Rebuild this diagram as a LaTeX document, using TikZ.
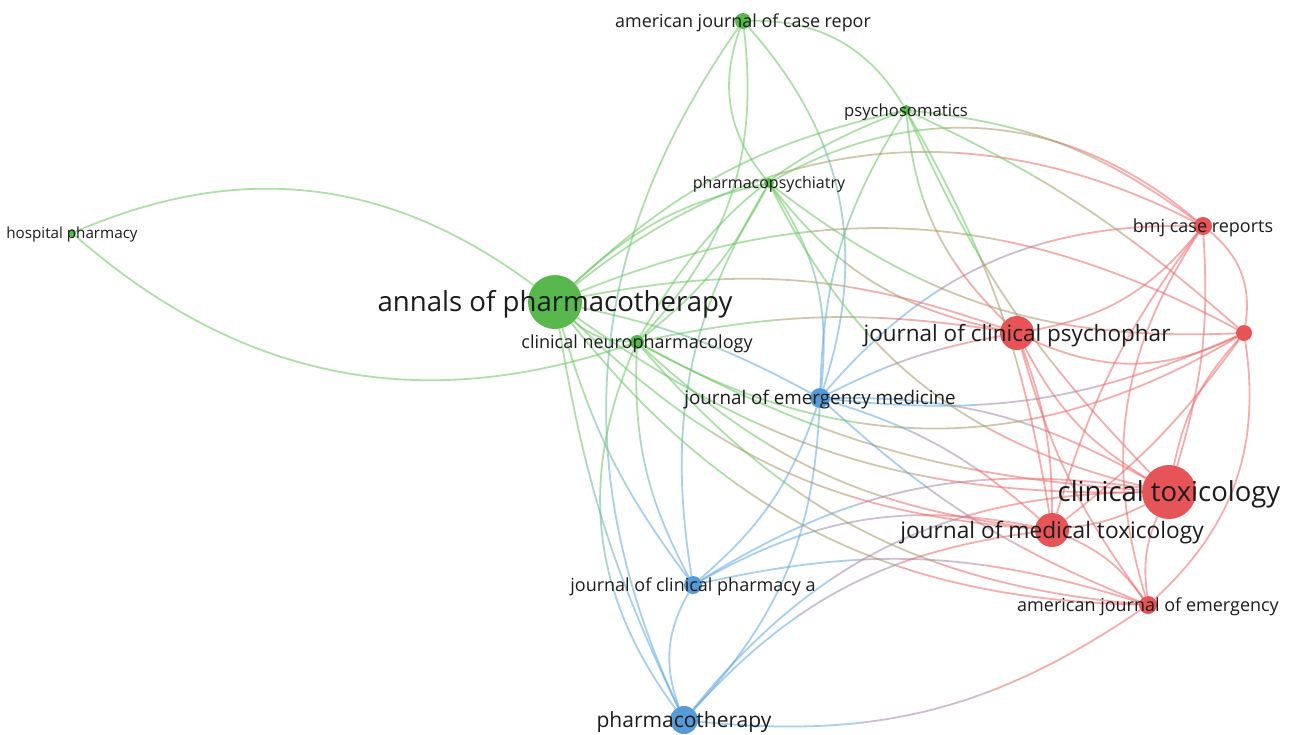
\documentclass[tikz,border=0pt]{standalone}
\usepackage{fontspec}
\setmainfont{Open Sans}
\usetikzlibrary{backgrounds,calc}
\definecolor{gnode}{RGB}{88,184,78}
\definecolor{rnode}{RGB}{230,84,88}
\definecolor{bnode}{RGB}{86,154,214}
\definecolor{gcol}{RGB}{105,200,95}
\definecolor{rcol}{RGB}{238,105,105}
\definecolor{bcol}{RGB}{95,168,228}
\definecolor{txt}{RGB}{28,28,28}
\tikzset{
  edgebase/.style={line width=1.8pt, opacity=0.55},
  dot/.style={circle, inner sep=0pt, minimum size=#1},
  gdot/.style={dot=#1, fill=gnode},
  rdot/.style={dot=#1, fill=rnode},
  bdot/.style={dot=#1, fill=bnode},
  lab/.style={text=txt, inner sep=0pt, anchor=base, yshift=-0.36*#1pt, font=\fontsize{#1pt}{#1pt}\selectfont}
}
% same-cluster edge: colour, from, to, bend
\newcommand\sedge[4]{\draw[edgebase, draw=#1] (#2) to[bend left=#4] (#3);}
% cross-cluster edge: colour at start, colour at end, from, to, bend
\newcommand\xedge[5]{%
  \coordinate (ea) at ($(#3)!0.36!(#4)$);
  \coordinate (eb) at ($(#3)!0.64!(#4)$);
  \begin{scope}
    \clip ($(ea)!3000pt!90:(#4)$) -- ($(ea)!3000pt!-90:(#4)$) -- ($(ea)!-3000pt!(#4)$) -- cycle;
    \draw[edgebase, draw=#1] (#3) to[bend left=#5] (#4);
  \end{scope}
  \begin{scope}
    \clip ($(ea)!3000pt!90:(#4)$) -- ($(eb)!3000pt!90:(#4)$) -- ($(eb)!3000pt!-90:(#4)$) -- ($(ea)!3000pt!-90:(#4)$) -- cycle;
    \draw[edgebase, draw=#1!50!#2] (#3) to[bend left=#5] (#4);
  \end{scope}
  \begin{scope}
    \clip ($(eb)!3000pt!90:(#4)$) -- ($(eb)!3000pt!-90:(#4)$) -- ($(eb)!3000pt!(#4)$) -- cycle;
    \draw[edgebase, draw=#2] (#3) to[bend left=#5] (#4);
  \end{scope}}
\begin{document}
\begin{tikzpicture}[x=1pt,y=1pt]
\useasboundingbox (0,0) rectangle (1293,-734);
% nodes
\node[gdot=54pt] (A) at (555,-302) {};
\node[gdot=14pt] (CN) at (637,-342) {};
\node[gdot=10pt] (PP) at (769,-183) {};
\node[gdot=10pt] (PS) at (906,-110) {};
\node[gdot=16pt] (AC) at (743,-21) {};
\node[gdot=8pt] (HP) at (72,-233) {};
\node[bdot=20pt] (JEM) at (820,-398) {};
\node[bdot=18pt] (JCPA) at (693,-585) {};
\node[bdot=28pt] (PT) at (684,-720) {};
\node[rdot=34pt] (JCP) at (1017,-333) {};
\node[rdot=18pt] (BMJ) at (1203,-226) {};
\node[rdot=16pt] (U) at (1244,-333) {};
\node[rdot=54pt] (CT) at (1169,-492) {};
\node[rdot=34pt] (JMT) at (1052,-530) {};
\node[rdot=18pt] (AJEM) at (1148,-605) {};
\begin{scope}[on background layer]
\fill[white] (0,0) rectangle (1293,-734);
% green-green
\sedge{gcol}{HP}{A}{30}
\sedge{gcol}{HP}{CN}{-30}
\sedge{gcol}{AC}{PS}{30}
\sedge{gcol}{AC}{PP}{-30}
\sedge{gcol}{AC}{CN}{25}
\sedge{gcol}{PS}{A}{-15}
\sedge{gcol}{PS}{CN}{-20}
\sedge{gcol}{PP}{A}{-15}
\sedge{gcol}{PP}{CN}{12}
\sedge{gcol}{A}{CN}{-20}
% green-blue
\xedge{gcol}{bcol}{AC}{PT}{-30}
\xedge{gcol}{bcol}{AC}{JEM}{30}
\xedge{gcol}{bcol}{PS}{JEM}{-15}
\xedge{gcol}{bcol}{PP}{JEM}{20}
\xedge{gcol}{bcol}{PP}{JCPA}{-20}
\xedge{gcol}{bcol}{A}{JEM}{8}
\xedge{gcol}{bcol}{A}{JCPA}{-10}
\xedge{gcol}{bcol}{A}{PT}{-8}
\xedge{gcol}{bcol}{CN}{JCPA}{-15}
\xedge{gcol}{bcol}{CN}{PT}{-30}
% blue-blue
\sedge{bcol}{JEM}{JCPA}{15}
\sedge{bcol}{JEM}{PT}{20}
\sedge{bcol}{JCPA}{PT}{-25}
% blue-red
\xedge{bcol}{rcol}{JEM}{BMJ}{25}
\xedge{bcol}{rcol}{JEM}{JCP}{8}
\xedge{bcol}{rcol}{JEM}{U}{-15}
\xedge{bcol}{rcol}{JEM}{CT}{15}
\xedge{bcol}{rcol}{JEM}{JMT}{12}
\xedge{bcol}{rcol}{JEM}{AJEM}{-10}
\xedge{bcol}{rcol}{JCPA}{JMT}{20}
\xedge{bcol}{rcol}{JCPA}{CT}{20}
\xedge{bcol}{rcol}{JCPA}{AJEM}{15}
\xedge{bcol}{rcol}{PT}{JMT}{20}
\xedge{bcol}{rcol}{PT}{CT}{25}
\xedge{bcol}{rcol}{PT}{AJEM}{-20}
% green-red
\xedge{gcol}{rcol}{A}{JCP}{15}
\xedge{gcol}{rcol}{A}{BMJ}{33}
\xedge{gcol}{rcol}{A}{U}{25}
\xedge{gcol}{rcol}{A}{CT}{-18}
\xedge{gcol}{rcol}{A}{JMT}{-20}
\xedge{gcol}{rcol}{A}{AJEM}{-25}
\xedge{gcol}{rcol}{CN}{JCP}{10}
\xedge{gcol}{rcol}{CN}{U}{-30}
\xedge{gcol}{rcol}{CN}{CT}{-12}
\xedge{gcol}{rcol}{CN}{JMT}{-18}
\xedge{gcol}{rcol}{CN}{AJEM}{-22}
\xedge{gcol}{rcol}{PP}{JCP}{-20}
\xedge{gcol}{rcol}{PP}{CT}{-25}
\xedge{gcol}{rcol}{PP}{U}{-20}
\xedge{gcol}{rcol}{PP}{BMJ}{35}
\xedge{gcol}{rcol}{PS}{JCP}{-20}
\xedge{gcol}{rcol}{PS}{JMT}{10}
\xedge{gcol}{rcol}{PS}{CT}{-10}
\xedge{gcol}{rcol}{PS}{BMJ}{15}
\xedge{gcol}{rcol}{PS}{U}{8}
% red-red
\sedge{rcol}{JCP}{BMJ}{-20}
\sedge{rcol}{JCP}{U}{-25}
\sedge{rcol}{JCP}{CT}{-15}
\sedge{rcol}{JCP}{JMT}{10}
\sedge{rcol}{JCP}{AJEM}{-10}
\sedge{rcol}{BMJ}{U}{30}
\sedge{rcol}{BMJ}{CT}{10}
\sedge{rcol}{BMJ}{JMT}{-10}
\sedge{rcol}{BMJ}{AJEM}{-25}
\sedge{rcol}{U}{CT}{-15}
\sedge{rcol}{U}{JMT}{8}
\sedge{rcol}{U}{AJEM}{28}
\sedge{rcol}{CT}{JMT}{10}
\sedge{rcol}{CT}{AJEM}{-15}
\sedge{rcol}{JMT}{AJEM}{15}
\end{scope}
% labels
\node[lab=27.6] (lA) at (A) {annals of pharmacotherapy};
\node[lab=18] (lCN) at (CN) {clinical neuropharmacology};
\node[lab=16] (lPP) at (PP) {pharmacopsychiatry};
\node[lab=16.7] (lPS) at (PS) {psychosomatics};
\node[lab=17.9] (lAC) at (AC) {american journal of case repor};
\node[lab=15.2] (lHP) at (HP) {hospital pharmacy};
\node[lab=18.8] (lJEM) at (JEM) {journal of emergency medicine};
\node[lab=18] (lJCPA) at (JCPA) {journal of clinical pharmacy a};
\node[lab=21] (lPT) at (PT) {pharmacotherapy};
\node[lab=22.5] (lJCP) at (JCP) {journal of clinical psychophar};
\node[lab=18] (lBMJ) at (BMJ) {bmj case reports};
\node[lab=27.5] (lCT) at (CT) {clinical toxicology};
\node[lab=22.7] (lJMT) at (JMT) {journal of medical toxicology};
\node[lab=18] (lAJEM) at (AJEM) {american journal of emergency};
\end{tikzpicture}
\end{document}
